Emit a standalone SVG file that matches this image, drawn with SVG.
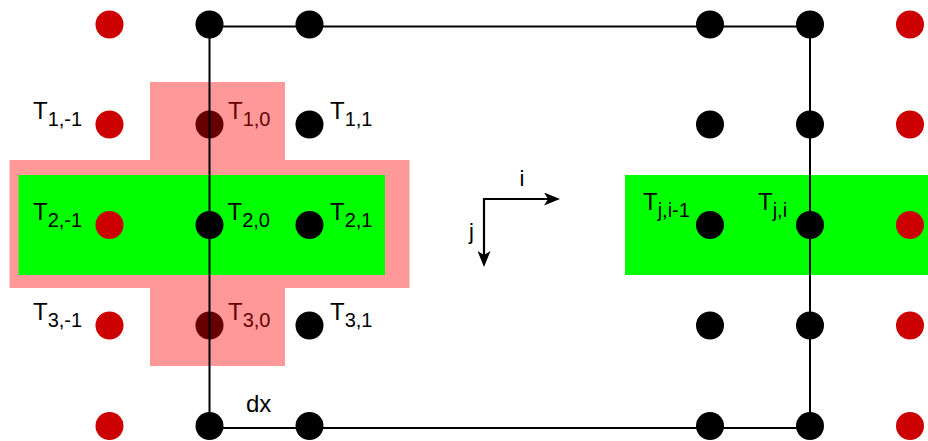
<svg xmlns="http://www.w3.org/2000/svg" width="928" height="441" viewBox="0 0 928 441">
<style>
.b{fill:#000}
.r{fill:#CC0000}
.t{font-family:"Liberation Sans",Arial,Helvetica,sans-serif;font-size:24px;fill:#000}
.s{font-size:20px}
.e{stroke:#000;stroke-width:2;fill:none}
.ax{stroke:#000;stroke-width:2.2;fill:none;marker-end:url(#arr)}
</style>
<defs>
<marker id="arr" viewBox="0 0 16 13" markerWidth="16" markerHeight="13" refX="11" refY="6.5" orient="auto" markerUnits="userSpaceOnUse">
<path d="M0,0 L16,6.5 L0,13 L4,6.5 z" fill="#000"/>
</marker>
</defs>
<rect width="928" height="441" fill="#fff"/>

<!-- rows 1,3,4,5 nodes -->
<g id="n-0-m1"><circle class="r" cx="109.5" cy="24.5" r="14"/></g>
<g id="n-0-0"><circle class="b" cx="209.5" cy="24.5" r="14"/></g>
<g id="n-0-1"><circle class="b" cx="309.5" cy="24.5" r="14"/></g>
<g id="n-0-a"><circle class="b" cx="710" cy="24.5" r="14"/></g>
<g id="n-0-b"><circle class="b" cx="810" cy="24.5" r="14"/></g>
<g id="n-0-c"><circle class="r" cx="910" cy="24.5" r="14"/></g>

<g id="T1m1"><circle class="r" cx="109.5" cy="124.5" r="14"/><text class="t" x="33" y="119">T<tspan class="s" dy="7">1,-1</tspan></text></g>
<g id="T10"><circle class="b" cx="209.5" cy="124.5" r="14"/><text class="t" x="228" y="119">T<tspan class="s" dy="7">1,0</tspan></text></g>
<g id="T11"><circle class="b" cx="309.5" cy="124.5" r="14"/><text class="t" x="330" y="119">T<tspan class="s" dy="7">1,1</tspan></text></g>
<g id="n-1-a"><circle class="b" cx="710" cy="124.5" r="14"/></g>
<g id="n-1-b"><circle class="b" cx="810" cy="124.5" r="14"/></g>
<g id="n-1-c"><circle class="r" cx="910" cy="124.5" r="14"/></g>

<g id="T3m1"><circle class="r" cx="109.5" cy="325.5" r="14"/><text class="t" x="33" y="320">T<tspan class="s" dy="7">3,-1</tspan></text></g>
<g id="T30"><circle class="b" cx="209.5" cy="325.5" r="14"/><text class="t" x="228" y="320">T<tspan class="s" dy="7">3,0</tspan></text></g>
<g id="T31"><circle class="b" cx="309.5" cy="325.5" r="14"/><text class="t" x="330" y="320">T<tspan class="s" dy="7">3,1</tspan></text></g>
<g id="n-3-a"><circle class="b" cx="710" cy="325.5" r="14"/></g>
<g id="n-3-b"><circle class="b" cx="810" cy="325.5" r="14"/></g>
<g id="n-3-c"><circle class="r" cx="910" cy="325.5" r="14"/></g>

<g id="n-4-m1"><circle class="r" cx="109.5" cy="426" r="14"/></g>
<g id="n-4-0"><circle class="b" cx="209.5" cy="426" r="14"/></g>
<g id="n-4-1"><circle class="b" cx="309.5" cy="426" r="14"/></g>
<g id="n-4-a"><circle class="b" cx="710" cy="426" r="14"/></g>
<g id="n-4-b"><circle class="b" cx="810" cy="426" r="14"/></g>
<g id="n-4-c"><circle class="r" cx="910" cy="426" r="14"/></g>

<!-- stencil regions -->
<g id="stencil">
<path d="M150,82 H285 V160 H409.5 V288 H285 V366 H150 V288 H9.5 V160 H150 Z" fill="#FF0000" fill-opacity="0.4"/>
</g>
<g id="row-left"><rect x="18.5" y="175" width="366.5" height="100" fill="#00FF00"/></g>
<g id="row-right"><rect x="625" y="175" width="303" height="100" fill="#00FF00"/></g>

<!-- row 2 nodes -->
<g id="T2m1"><circle class="r" cx="109.5" cy="225" r="14"/><text class="t" x="33" y="220">T<tspan class="s" dy="7">2,-1</tspan></text></g>
<g id="T20"><circle class="b" cx="209.5" cy="225" r="14"/><text class="t" x="227.5" y="220">T<tspan class="s" dy="7">2,0</tspan></text></g>
<g id="T21"><circle class="b" cx="309.5" cy="225" r="14"/><text class="t" x="330" y="220">T<tspan class="s" dy="7">2,1</tspan></text></g>
<g id="Tjim1"><circle class="b" cx="710" cy="225" r="14"/><text class="t" x="643" y="209.5">T<tspan class="s" dy="7">j,i-1</tspan></text></g>
<g id="Tji"><circle class="b" cx="810" cy="225" r="14"/><text class="t" x="758" y="210">T<tspan class="s" dy="7">j,i</tspan></text></g>
<g id="n-2-c"><circle class="r" cx="910" cy="225" r="14"/></g>

<!-- connectors -->
<g id="connectors">
<line class="e" x1="209.5" y1="26.5" x2="810" y2="26.5"/>
<line class="e" x1="209.5" y1="428" x2="810" y2="428"/>
<line class="e" x1="209.5" y1="26.5" x2="209.5" y2="428"/>
<line class="e" x1="810" y1="26.5" x2="810" y2="428"/>
</g>

<g id="dx"><text class="t" x="246" y="412">dx</text></g>

<g id="axes">
<path class="ax" d="M483,199 H555"/>
<path class="ax" d="M484,198 V262"/>
<text class="t" x="522" y="186" text-anchor="middle" style="font-size:22px">i</text>
<text class="t" x="471.5" y="239" text-anchor="middle" style="font-size:22px">j</text>
</g>
</svg>
